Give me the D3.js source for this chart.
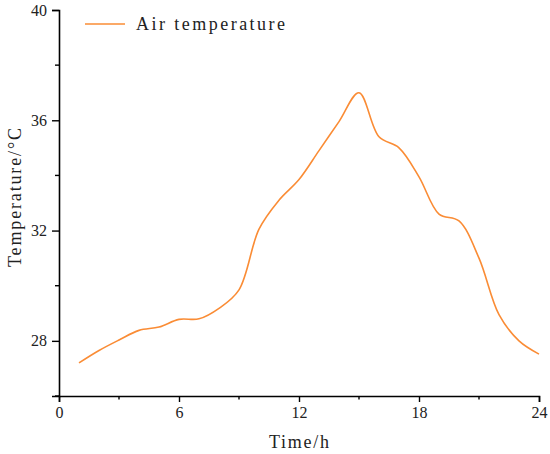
<html>
<script src="https://d3js.org/d3.v7.min.js"></script>
<style>
  body { margin:0; background:#fff; }
</style>
<body>
<svg id="plot"></svg>
<script>

// hourly air temperature
var hours = [1,2,3,4,5,6,7,8,9,10,11,12,13,14,15,16,17,18,19,20,21,22,23,24];
var temps = [27.2,27.65,28.03,28.38,28.5,28.78,28.8,29.18,29.85,32.05,33.1,33.85,34.9,35.95,37.0,35.4,35.0,33.95,32.6,32.35,31.0,28.95,28.0,27.52];

var xMajor = [0,6,12,18,24];
var xMinor = [3,9,15,21];
var yMajor = [28,32,36,40];
var yMinor = [26,30,34,38];

var seriesName = "Air temperature";
var xTitle = "Time/h";
var yTitle = "Temperature/\u00B0C";

var serifFont = "'Liberation Serif', 'Times New Roman', 'DejaVu Serif', serif";

var screen = {width:550, height:454};
var margins = {top:10, bottom:58, left:59, right:11};
var graph = {
    width:screen.width-margins.left-margins.right,
    height:screen.height-margins.top-margins.bottom
};

var svg = d3.select("#plot")
    .attr("width",screen.width)
    .attr("height",screen.height);

var xScale = d3.scaleLinear().domain([0,24]).range([0,graph.width]);
var yScale = d3.scaleLinear().domain([26,40]).range([graph.height,0]);

var g = svg.append("g")
    .attr("transform","translate("+margins.left+","+margins.top+")");

//axes
var xAxis = g.append("g")
    .attr("transform","translate(0,"+graph.height+")")
    .call(d3.axisBottom(xScale).tickValues(xMajor).tickSize(6).tickPadding(5));
xAxis.append("g").selectAll("line")
    .data(xMinor).enter().append("line")
    .attr("x1",function(d){return xScale(d);})
    .attr("x2",function(d){return xScale(d);})
    .attr("y1",0).attr("y2",3.5)
    .attr("stroke","#000");

var yAxis = g.append("g")
    .call(d3.axisLeft(yScale).tickValues(yMajor).tickSize(7).tickPadding(5));
yAxis.append("g").selectAll("line")
    .data(yMinor).enter().append("line")
    .attr("y1",function(d){return yScale(d);})
    .attr("y2",function(d){return yScale(d);})
    .attr("x1",0).attr("x2",-4)
    .attr("stroke","#000");

[xAxis,yAxis].forEach(function(a){
    a.attr("font-family",serifFont).attr("font-size",16);
    a.select(".domain").attr("stroke","#000").attr("stroke-width",1.6);
    a.selectAll("line").attr("stroke-width",1.4);
    a.selectAll(".tick text")
        .style("font-family",serifFont)
        .attr("font-size",16)
        .attr("fill","#222");
});

//line
var line = d3.line()
    .x(function(d,i){return xScale(hours[i]);})
    .y(function(d){return yScale(d);})
    .curve(d3.curveCatmullRom.alpha(0.5));

g.append("path")
    .datum(temps)
    .attr("d",line)
    .attr("fill","none")
    .attr("stroke","#fa8c35")
    .attr("stroke-width",1.6);

//legend
svg.append("line")
    .attr("x1",85).attr("x2",125)
    .attr("y1",24).attr("y2",24)
    .attr("stroke","#fa8c35")
    .attr("stroke-width",1.6);
svg.append("text")
    .text(seriesName)
    .attr("x",136).attr("y",30)
    .style("font-family",serifFont)
    .attr("fill","#222")
    .attr("font-size",18)
    .attr("textLength",149)
    .attr("lengthAdjust","spacing");

//titles
svg.append("text")
    .text(xTitle)
    .attr("x",269)
    .attr("y",448)
    .style("font-family",serifFont)
    .attr("fill","#222")
    .attr("font-size",18)
    .attr("textLength",60)
    .attr("lengthAdjust","spacing");

svg.append("text")
    .text(yTitle)
    .attr("transform","translate(21,267) rotate(-90)")
    .style("font-family",serifFont)
    .attr("fill","#222")
    .attr("font-size",18)
    .attr("textLength",139)
    .attr("lengthAdjust","spacing");

</script>
</body>
</html>
